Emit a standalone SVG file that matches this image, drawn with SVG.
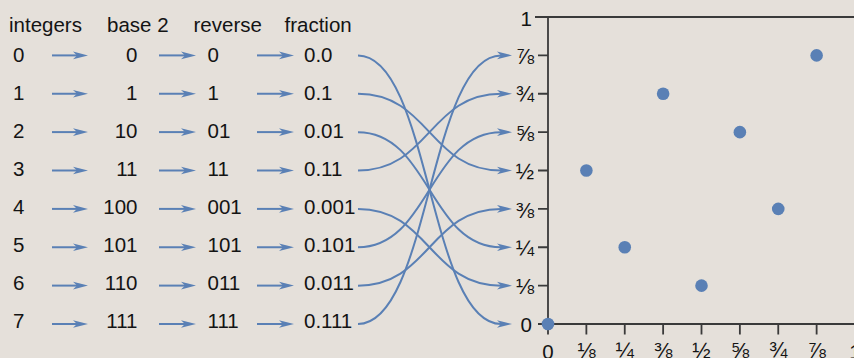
<svg xmlns="http://www.w3.org/2000/svg" width="854" height="358" viewBox="0 0 854 358">
<defs>
<style>
text{font-family:"Liberation Sans",Arial,Helvetica,sans-serif;fill:#141414;font-size:20.5px}
.e{text-anchor:end}
.m{text-anchor:middle}
.fr{font-size:22px}
.ar{fill:none;stroke:#5a80b5;stroke-width:2;marker-end:url(#ah)}
.ax{fill:none;stroke:#3a3a3a;stroke-width:1.8}
.dot{fill:#5a80b5}
</style>
<marker id="ah" markerUnits="userSpaceOnUse" markerWidth="16" markerHeight="9" viewBox="0 -4.5 16 9" refX="4" refY="0" orient="auto">
<path d="M0,-3.8 L15,0 L0,3.8 L4,0 Z" fill="#5a80b5"/>
</marker>
</defs>
<rect width="854" height="358" fill="#e5e0da"/>
<g id="headers">
<text x="9" y="31.5">integers</text>
<text x="107" y="31.5">base 2</text>
<text x="193.5" y="31.5">reverse</text>
<text x="284.5" y="31.5">fraction</text>
</g>
<g id="row0"><text x="13" y="61.7">0</text><text class="e" x="137.5" y="61.7">0</text><text x="207.5" y="61.7">0</text><text x="304" y="61.7">0.0</text></g>
<g id="row1"><text x="13" y="99.8">1</text><text class="e" x="137.5" y="99.8">1</text><text x="207.5" y="99.8">1</text><text x="304" y="99.8">0.1</text></g>
<g id="row2"><text x="13" y="137.8">2</text><text class="e" x="137.5" y="137.8">10</text><text x="207.5" y="137.8">01</text><text x="304" y="137.8">0.01</text></g>
<g id="row3"><text x="13" y="175.9">3</text><text class="e" x="137.5" y="175.9">11</text><text x="207.5" y="175.9">11</text><text x="304" y="175.9">0.11</text></g>
<g id="row4"><text x="13" y="214">4</text><text class="e" x="137.5" y="214">100</text><text x="207.5" y="214">001</text><text x="304" y="214">0.001</text></g>
<g id="row5"><text x="13" y="252.1">5</text><text class="e" x="137.5" y="252.1">101</text><text x="207.5" y="252.1">101</text><text x="304" y="252.1">0.101</text></g>
<g id="row6"><text x="13" y="290.1">6</text><text class="e" x="137.5" y="290.1">110</text><text x="207.5" y="290.1">011</text><text x="304" y="290.1">0.011</text></g>
<g id="row7"><text x="13" y="328.2">7</text><text class="e" x="137.5" y="328.2">111</text><text x="207.5" y="328.2">111</text><text x="304" y="328.2">0.111</text></g>
<g id="connectors">
<path class="ar" d="M52,55.4H77"/><path class="ar" d="M159,55.4H185"/><path class="ar" d="M257,55.4H283"/>
<path class="ar" d="M52,93.75H77"/><path class="ar" d="M159,93.75H185"/><path class="ar" d="M257,93.75H283"/>
<path class="ar" d="M52,132.1H77"/><path class="ar" d="M159,132.1H185"/><path class="ar" d="M257,132.1H283"/>
<path class="ar" d="M52,170.5H77"/><path class="ar" d="M159,170.5H185"/><path class="ar" d="M257,170.5H283"/>
<path class="ar" d="M52,208.9H77"/><path class="ar" d="M159,208.9H185"/><path class="ar" d="M257,208.9H283"/>
<path class="ar" d="M52,247.25H77"/><path class="ar" d="M159,247.25H185"/><path class="ar" d="M257,247.25H283"/>
<path class="ar" d="M52,285.6H77"/><path class="ar" d="M159,285.6H185"/><path class="ar" d="M257,285.6H283"/>
<path class="ar" d="M52,324H77"/><path class="ar" d="M159,324H185"/><path class="ar" d="M257,324H283"/>
<path class="ar" d="M358,55.375C429.5,55.375 429.5,324 501,324"/>
<path class="ar" d="M358,93.75C429.5,93.75 429.5,170.5 501,170.5"/>
<path class="ar" d="M358,132.125C429.5,132.125 429.5,247.25 501,247.25"/>
<path class="ar" d="M358,170.5C429.5,170.5 429.5,93.75 501,93.75"/>
<path class="ar" d="M358,208.875C429.5,208.875 429.5,285.625 501,285.625"/>
<path class="ar" d="M358,247.25C429.5,247.25 429.5,132.125 501,132.125"/>
<path class="ar" d="M358,285.625C429.5,285.625 429.5,208.875 501,208.875"/>
<path class="ar" d="M358,324C429.5,324 429.5,55.375 501,55.375"/>
</g>
<g id="plot">
<path class="ax" d="M535,17H854M548,17V334.5M538,324H854"/>
<path class="ax" d="M538,55.375H548M538,93.75H548M538,132.125H548M538,170.5H548M538,208.875H548M538,247.25H548M538,285.625H548"/>
<path class="ax" d="M586.375,324V334.5M624.75,324V334.5M663.125,324V334.5M701.5,324V334.5M739.875,324V334.5M778.25,324V334.5M816.625,324V334.5"/>
<text class="e" x="532" y="26">1</text>
<text class="e fr" x="534" y="64">⅞</text>
<text class="e fr" x="534" y="102.4">¾</text>
<text class="e fr" x="534" y="140.8">⅝</text>
<text class="e fr" x="534" y="179.2">½</text>
<text class="e fr" x="534" y="217.6">⅜</text>
<text class="e fr" x="534" y="256">¼</text>
<text class="e fr" x="534" y="294.3">⅛</text>
<text class="e" x="532" y="331.7">0</text>
<text class="m" x="548" y="359">0</text>
<text class="m fr" x="586.375" y="357.5">⅛</text>
<text class="m fr" x="624.75" y="357.5">¼</text>
<text class="m fr" x="663.125" y="357.5">⅜</text>
<text class="m fr" x="701.5" y="357.5">½</text>
<text class="m fr" x="739.875" y="357.5">⅝</text>
<text class="m fr" x="778.25" y="357.5">¾</text>
<text class="m fr" x="816.625" y="357.5">⅞</text>
<text class="m" x="855" y="359">1</text>
<circle class="dot" cx="548" cy="324" r="6.3"/>
<circle class="dot" cx="586.375" cy="170.5" r="6.3"/>
<circle class="dot" cx="624.75" cy="247.25" r="6.3"/>
<circle class="dot" cx="663.125" cy="93.75" r="6.3"/>
<circle class="dot" cx="701.5" cy="285.625" r="6.3"/>
<circle class="dot" cx="739.875" cy="132.125" r="6.3"/>
<circle class="dot" cx="778.25" cy="208.875" r="6.3"/>
<circle class="dot" cx="816.625" cy="55.375" r="6.3"/>
</g>
</svg>
